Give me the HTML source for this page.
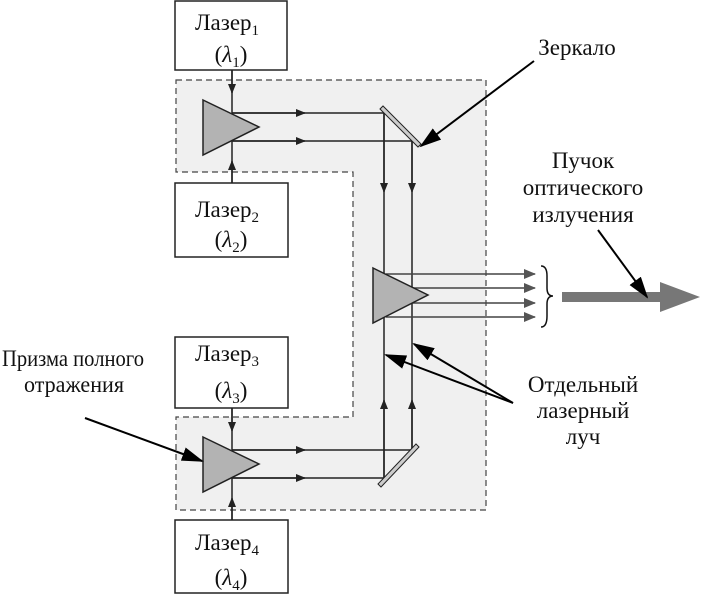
<!DOCTYPE html>
<html><head><meta charset="utf-8"><style>
html,body{margin:0;padding:0;background:#fff;}
svg{display:block;}
svg text{font-family:"Liberation Serif","DejaVu Serif",serif;fill:#111;}
</style></head><body>
<svg width="706" height="594" viewBox="0 0 706 594" xmlns="http://www.w3.org/2000/svg">
<defs>
<marker id="ah" markerWidth="10" markerHeight="8" refX="9" refY="4" orient="auto" markerUnits="userSpaceOnUse"><path d="M0,0 L10,4 L0,8 Z" fill="#222"/></marker>
<marker id="big" markerWidth="22" markerHeight="14" refX="20" refY="7" orient="auto" markerUnits="userSpaceOnUse"><path d="M0,0 L22,7 L0,14 Z" fill="#000"/></marker>
<marker id="gh" markerWidth="12" markerHeight="10" refX="11" refY="5" orient="auto" markerUnits="userSpaceOnUse"><path d="M0,0 L12,5 L0,10 Z" fill="#555"/></marker>
</defs>
<path d="M176,80 L486,80 L486,510 L176,510 L176,417 L353,417 L353,172 L176,172 Z" fill="#f0f0f0" stroke="#444" stroke-width="1.2" stroke-dasharray="6,4"/>
<g fill="#fff" stroke="#222" stroke-width="1.5">
<rect x="175" y="1" width="112" height="69"/>
<rect x="175" y="183" width="113" height="74"/>
<rect x="175" y="337" width="113" height="71"/>
<rect x="175" y="520" width="113" height="73"/>
</g>
<g font-size="23" text-anchor="middle" font-family="Liberation Serif, DejaVu Serif, serif">
<text x="227" y="30">Лазер<tspan font-size="15" dy="5">1</tspan></text>
<text x="231" y="62">(<tspan font-style="italic">λ</tspan><tspan font-size="15" dy="5">1</tspan><tspan dy="-5">)</tspan></text>
<text x="227" y="217">Лазер<tspan font-size="15" dy="5">2</tspan></text>
<text x="231" y="247">(<tspan font-style="italic">λ</tspan><tspan font-size="15" dy="5">2</tspan><tspan dy="-5">)</tspan></text>
<text x="227" y="361">Лазер<tspan font-size="15" dy="5">3</tspan></text>
<text x="231" y="398">(<tspan font-style="italic">λ</tspan><tspan font-size="15" dy="5">3</tspan><tspan dy="-5">)</tspan></text>
<text x="227" y="550">Лазер<tspan font-size="15" dy="5">4</tspan></text>
<text x="231" y="585">(<tspan font-style="italic">λ</tspan><tspan font-size="15" dy="5">4</tspan><tspan dy="-5">)</tspan></text>
</g>
<g stroke="#222" stroke-width="1.5">
<line x1="232" y1="70" x2="232" y2="113"/><line x1="232" y1="70" x2="232" y2="93" marker-end="url(#ah)"/>
<line x1="232" y1="183" x2="232" y2="141"/><line x1="232" y1="183" x2="232" y2="161" marker-end="url(#ah)"/>
<line x1="232" y1="408" x2="232" y2="450"/><line x1="232" y1="408" x2="232" y2="431" marker-end="url(#ah)"/>
<line x1="232" y1="520" x2="232" y2="478"/><line x1="232" y1="520" x2="232" y2="498" marker-end="url(#ah)"/>
<line x1="232" y1="113" x2="384" y2="113"/><line x1="232" y1="113" x2="305" y2="113" marker-end="url(#ah)"/>
<line x1="232" y1="141" x2="412" y2="141"/><line x1="232" y1="141" x2="305" y2="141" marker-end="url(#ah)"/>
<line x1="232" y1="450" x2="412" y2="450"/><line x1="232" y1="450" x2="305" y2="450" marker-end="url(#ah)"/>
<line x1="232" y1="478" x2="384" y2="478"/><line x1="232" y1="478" x2="305" y2="478" marker-end="url(#ah)"/>
<line x1="384" y1="113" x2="384" y2="478"/><line x1="412" y1="141" x2="412" y2="450"/>
<line x1="384" y1="113" x2="384" y2="192" marker-end="url(#ah)"/>
<line x1="412" y1="141" x2="412" y2="192" marker-end="url(#ah)"/>
<line x1="384" y1="478" x2="384" y2="400" marker-end="url(#ah)"/>
<line x1="412" y1="450" x2="412" y2="400" marker-end="url(#ah)"/>
</g>
<g stroke="#444" stroke-width="1.5">
<line x1="386" y1="274" x2="535" y2="274" marker-end="url(#gh)"/>
<line x1="386" y1="288" x2="535" y2="288" marker-end="url(#gh)"/>
<line x1="386" y1="303" x2="535" y2="303" marker-end="url(#gh)"/>
<line x1="386" y1="317" x2="535" y2="317" marker-end="url(#gh)"/>
</g>
<g fill="#b3b3b3" stroke="#222" stroke-width="1.5">
<polygon points="203,100 259,127 203,155"/>
<polygon points="203,437 259,464 203,492"/>
<polygon points="373,268 428,295 373,323"/>
</g>
<g fill="#ccc" stroke="#222" stroke-width="1">
<polygon points="380,109 383,106 421,144 418,147"/>
<polygon points="378,484 381,487 419,447 416,444"/>
</g>
<path d="M541,266 Q547,266 547,276 L547,288 Q547,296 553,296 Q547,296 547,304 L547,316 Q547,327 541,327" fill="none" stroke="#111" stroke-width="1.5"/>
<rect x="562" y="292" width="100" height="10" fill="#777"/>
<polygon points="660,282 700,297 660,312" fill="#777"/>
<g stroke="#000" stroke-width="2">
<line x1="534" y1="61" x2="421" y2="146" marker-end="url(#big)"/>
<line x1="598" y1="230" x2="647" y2="297" marker-end="url(#big)"/>
<line x1="85" y1="418" x2="202" y2="461" marker-end="url(#big)"/>
<line x1="513" y1="403" x2="386" y2="355" marker-end="url(#big)"/>
<line x1="513" y1="403" x2="414" y2="344" marker-end="url(#big)"/>
</g>
<g font-size="23" text-anchor="middle" font-family="Liberation Serif, DejaVu Serif, serif">
<text x="577" y="55">Зеркало</text>
<text x="583" y="168">Пучок</text>
<text x="583" y="195">оптического</text>
<text x="583" y="222">излучения</text>
<text x="583" y="392">Отдельный</text>
<text x="583" y="418">лазерный</text>
<text x="583" y="444">луч</text>
</g>
<g font-size="23" font-family="Liberation Serif, DejaVu Serif, serif">
<text x="2" y="366" textLength="142" lengthAdjust="spacingAndGlyphs">Призма полного</text>
<text x="24" y="392" textLength="100" lengthAdjust="spacingAndGlyphs">отражения</text>
</g>
</svg>
</body></html>
